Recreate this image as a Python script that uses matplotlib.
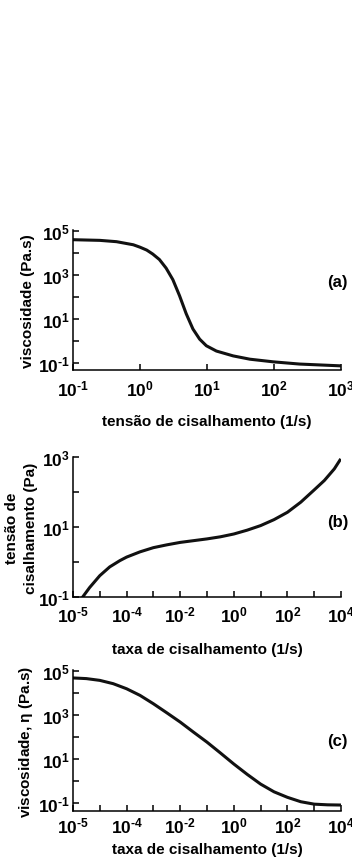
import numpy as np
import matplotlib
matplotlib.use("Agg")
import matplotlib.pyplot as plt
from matplotlib.ticker import FixedLocator, NullLocator, NullFormatter

plt.rcParams['font.family'] = ['Liberation Sans', 'DejaVu Sans']
plt.rcParams['font.weight'] = 'bold'
plt.rcParams['axes.labelweight'] = 'bold'
plt.rcParams['mathtext.fontset'] = 'custom'
plt.rcParams['mathtext.rm'] = 'Liberation Sans:bold'
plt.rcParams['mathtext.bf'] = 'Liberation Sans:bold'
plt.rcParams['mathtext.it'] = 'Liberation Sans:bold'

# (a) viscosidade x tensao de cisalhamento (log10 values)
a_logx = [-1.0, -0.6, -0.35, -0.1, 0.0, 0.1, 0.19, 0.29, 0.39, 0.49, 0.59, 0.69, 0.79, 0.89, 0.99,
          1.14, 1.39, 1.64, 1.99, 2.38, 2.98]
a_logy = [4.61, 4.58, 4.52, 4.38, 4.27, 4.14, 3.96, 3.71, 3.32, 2.8, 2.07, 1.25, 0.56, 0.1, -0.2,
          -0.44, -0.66, -0.81, -0.93, -1.03, -1.11]

# (b) tensao de cisalhamento x taxa de cisalhamento
b_logx = [-5.8, -5.63, -5.38, -5.0, -4.63, -4.25, -4.0, -3.5, -3.0, -2.5, -2.0, -1.5, -1.0, -0.5,
          0.0, 0.5, 1.0, 1.5, 2.0, 2.5, 3.0, 3.38, 3.75, 3.96]
b_logy = [-1.3, -0.99, -0.73, -0.39, -0.14, 0.04, 0.14, 0.29, 0.41, 0.49, 0.56, 0.61, 0.66, 0.72,
          0.8, 0.91, 1.04, 1.21, 1.42, 1.71, 2.06, 2.33, 2.66, 2.91]

# (c) viscosidade x taxa de cisalhamento
c_logx = [-6.0, -5.5, -5.0, -4.5, -4.0, -3.5, -3.0, -2.5, -2.0, -1.5, -1.0, -0.5, 0.0, 0.5, 1.0,
          1.5, 2.0, 2.5, 3.0, 3.5, 4.0]
c_logy = [4.67, 4.64, 4.56, 4.41, 4.18, 3.88, 3.5, 3.09, 2.67, 2.21, 1.76, 1.27, 0.77, 0.3, -0.14,
          -0.49, -0.74, -0.94, -1.05, -1.08, -1.09]

a_xticks = [1e-1, 1e0, 1e1, 1e2, 1e3]
a_xlabels = ['$10^{\u20101}$', '$10^{0}$', '$10^{1}$', '$10^{2}$', '$10^{3}$']
bc_xticks = [1e-6, 1e-4, 1e-2, 1e0, 1e2, 1e4]
bc_xlabels = ['$10^{\u20105}$', '$10^{\u20104}$', '$10^{\u20102}$', '$10^{0}$', '$10^{2}$', '$10^{4}$']
y_ticks_visc = [1e-1, 1e1, 1e3, 1e5]
y_labels_visc = ['$10^{\u20101}$', '$10^{1}$', '$10^{3}$', '$10^{5}$']
y_ticks_b = [1e-1, 1e1, 1e3]
y_labels_b = ['$10^{\u20101}$', '$10^{1}$', '$10^{3}$']

W, H = 352, 862
fig = plt.figure(figsize=(W / 100, H / 100), dpi=100)
FS = 11
TFS = 12.5


def px_axes(left, top, right, bottom):
    return fig.add_axes([left / W, 1 - bottom / H, (right - left) / W, (bottom - top) / H])


def style(ax):
    for s in ['top', 'right']:
        ax.spines[s].set_visible(False)
    for s in ['left', 'bottom']:
        ax.spines[s].set_linewidth(1.1)
    ax.tick_params(which='both', direction='in', width=1.1, labelsize=TFS, length=4.5)
    ax.tick_params(axis='y', pad=2)


ax1 = px_axes(73, 231, 341, 371)
ax1.plot(10 ** np.array(a_logx), 10 ** np.array(a_logy), color='#111111', lw=2.2)
ax1.set_xscale('log')
ax1.set_yscale('log')
ax1.set_xlim(1e-1, 1e3)
ax1.set_ylim(10 ** -1.3, 10 ** 5.05)
ax1.xaxis.set_major_locator(FixedLocator(a_xticks))
ax1.set_xticklabels(a_xlabels)
ax1.xaxis.set_minor_locator(NullLocator())
ax1.yaxis.set_major_locator(FixedLocator(y_ticks_visc))
ax1.set_yticklabels(y_labels_visc)
ax1.yaxis.set_minor_locator(FixedLocator([1e0, 1e2, 1e4]))
ax1.yaxis.set_minor_formatter(NullFormatter())
style(ax1)
ax1.tick_params(axis='x', pad=6)
ax1.set_xlabel('tensão de cisalhamento (1/s)', fontsize=FS, labelpad=11)
ax1.set_ylabel('viscosidade (Pa.s)', fontsize=FS)
ax1.yaxis.set_label_coords(-0.14, 0.5)
fig.text(348 / W, 1 - 283 / H, '(a)', ha='right', va='center', fontsize=12)

ax2 = px_axes(73, 458, 341, 598)
ax2.plot(10 ** np.array(b_logx), 10 ** np.array(b_logy), color='#111111', lw=2.2)
ax2.set_xscale('log')
ax2.set_yscale('log')
ax2.set_xlim(1e-6, 1e4)
ax2.set_ylim(1e-1, 1e3)
ax2.xaxis.set_major_locator(FixedLocator(bc_xticks))
ax2.set_xticklabels(bc_xlabels)
ax2.xaxis.set_minor_locator(FixedLocator([1e-5, 1e-3, 1e-1, 1e1, 1e3]))
ax2.xaxis.set_minor_formatter(NullFormatter())
ax2.yaxis.set_major_locator(FixedLocator(y_ticks_b))
ax2.set_yticklabels(y_labels_b)
ax2.yaxis.set_minor_locator(FixedLocator([1e0, 1e2]))
ax2.yaxis.set_minor_formatter(NullFormatter())
style(ax2)
ax2.tick_params(axis='x', pad=5.5)
ax2.set_xlabel('taxa de cisalhamento (1/s)', fontsize=FS, labelpad=12.5)
ax2.set_ylabel('tensão de\ncisalhamento (Pa)', fontsize=FS, linespacing=1.5)
ax2.yaxis.set_label_coords(-0.13, 0.5)
fig.text(348 / W, 1 - 522 / H, '(b)', ha='right', va='center', fontsize=12)

ax3 = px_axes(73, 671, 341, 812)
ax3.plot(10 ** np.array(c_logx), 10 ** np.array(c_logy), color='#111111', lw=2.2)
ax3.set_xscale('log')
ax3.set_yscale('log')
ax3.set_xlim(1e-6, 1e4)
ax3.set_ylim(10 ** -1.36, 10 ** 5.03)
ax3.xaxis.set_major_locator(FixedLocator(bc_xticks))
ax3.set_xticklabels(bc_xlabels)
ax3.xaxis.set_minor_locator(FixedLocator([1e-5, 1e-3, 1e-1, 1e1, 1e3]))
ax3.xaxis.set_minor_formatter(NullFormatter())
ax3.yaxis.set_major_locator(FixedLocator(y_ticks_visc))
ax3.set_yticklabels(y_labels_visc)
ax3.yaxis.set_minor_locator(FixedLocator([1e0, 1e2, 1e4]))
ax3.yaxis.set_minor_formatter(NullFormatter())
style(ax3)
ax3.tick_params(axis='x', pad=3)
ax3.set_xlabel('taxa de cisalhamento (1/s)', fontsize=FS, labelpad=5)
ax3.set_ylabel('viscosidade, $\\mathregular{\\eta}$ (Pa.s)', fontsize=FS)
ax3.yaxis.set_label_coords(-0.14, 0.5)
fig.text(348 / W, 1 - 742 / H, '(c)', ha='right', va='center', fontsize=12)

fig.savefig('out.png', dpi=100)
